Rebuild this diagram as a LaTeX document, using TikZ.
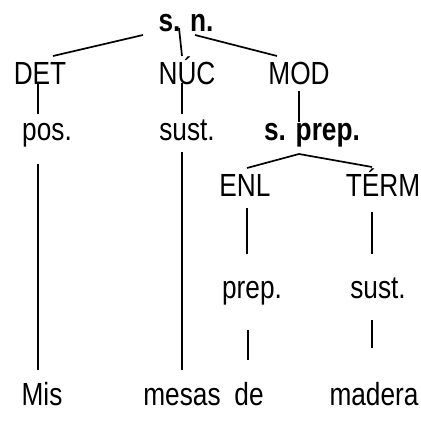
\documentclass[tikz,border=0pt]{standalone}
\usepackage{fontspec}
\setmainfont{Liberation Sans}[FakeStretch=0.82]
\begin{document}
\begin{tikzpicture}[x=0.5pt,y=-0.5pt,
  lbl/.style={anchor=base,inner sep=0pt,font=\fontsize{16}{16}\selectfont},
  blbl/.style={lbl,font=\fontsize{16}{16}\selectfont\bfseries},
  ln/.style={line width=0.85pt}]
\useasboundingbox (0,0) rectangle (421,421);
% labels
\node[blbl] (sn) at (186,32) {s. n.};
\node[lbl] (det) at (40,85) {DET};
\node[lbl] (nuc) at (187,85) {NÚC};
\node[lbl] (mod) at (299,85) {MOD};
\node[lbl] (pos) at (47,141) {pos.};
\node[lbl] (sust1) at (187,141) {sust.};
\node[blbl] (sprep) at (312,141) {s. prep.};
\node[lbl] (enl) at (245,197) {ENL};
\node[lbl] (term) at (383,197) {TÉRM};
\node[lbl] (prep) at (252,298) {prep.};
\node[lbl] (sust2) at (378,298) {sust.};
\node[lbl] (mis) at (42,405) {Mis};
\node[lbl] (mesas) at (182,405) {mesas};
\node[lbl] (de) at (249,405) {de};
\node[lbl] (madera) at (374,405) {madera};
% connector end points
\coordinate (sn-l) at (143,35);  \coordinate (det-t) at (53,56);
\coordinate (sn-m) at (179,28);  \coordinate (nuc-t) at (182,56);
\coordinate (sn-r) at (195,35);  \coordinate (mod-t) at (277,56);
\coordinate (det-b) at (38,82);  \coordinate (pos-t) at (38,114);
\coordinate (nuc-b) at (182,83); \coordinate (sust1-t) at (182,114);
\coordinate (mod-b) at (299,91); \coordinate (sprep-t) at (299,122);
\coordinate (pos-b) at (38,164); \coordinate (mis-t) at (38,370);
\coordinate (sust1-b) at (182,152); \coordinate (mesas-t) at (182,370);
\coordinate (sprep-b) at (299,154);
\coordinate (enl-t) at (247,168); \coordinate (term-t) at (372,167);
\coordinate (enl-b) at (247,208); \coordinate (prep-t) at (247,254);
\coordinate (term-b) at (372,212); \coordinate (sust2-t) at (372,254);
\coordinate (prep-b) at (248,330); \coordinate (de-t) at (248,360);
\coordinate (sust2-b) at (372,320); \coordinate (madera-t) at (372,348);
% connectors
\draw[ln] (sn-l) -- (det-t);
\draw[ln] (sn-m) -- (nuc-t);
\draw[ln] (sn-r) -- (mod-t);
\draw[ln] (det-b) -- (pos-t);
\draw[ln] (nuc-b) -- (sust1-t);
\draw[ln] (mod-b) -- (sprep-t);
\draw[ln] (pos-b) -- (mis-t);
\draw[ln] (sust1-b) -- (mesas-t);
\draw[ln] (enl-t) -- (sprep-b) -- (term-t);
\draw[ln] (enl-b) -- (prep-t);
\draw[ln] (term-b) -- (sust2-t);
\draw[ln] (prep-b) -- (de-t);
\draw[ln] (sust2-b) -- (madera-t);
\end{tikzpicture}
\end{document}
